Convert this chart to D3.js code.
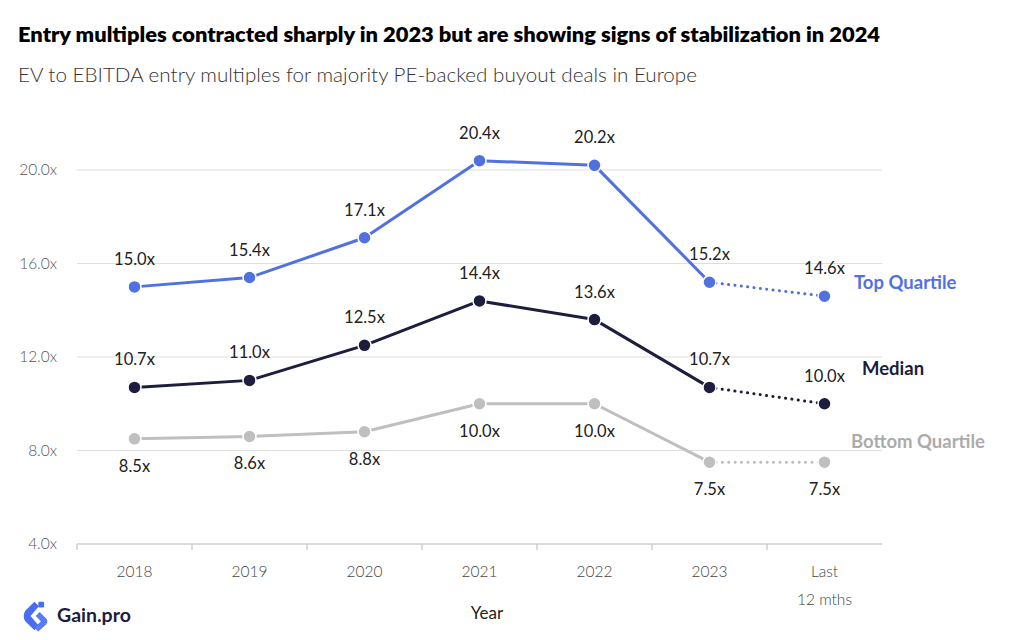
<!DOCTYPE html>
<html>
<head>
<meta charset="utf-8">
<script src="https://cdn.jsdelivr.net/npm/d3@7"></script>
<style>
body{margin:0;background:#fff;}
text{font-family:"Lato","Open Sans",sans-serif;}
</style>
</head>
<body>
<script>
// chart data
var years=["2018","2019","2020","2021","2022","2023","Last 12 mths"]
var topQuartile=[15.0,15.4,17.1,20.4,20.2,15.2,14.6]
var median=[10.7,11.0,12.5,14.4,13.6,10.7,10.0]
var bottomQuartile=[8.5,8.6,8.8,10.0,10.0,7.5,7.5]
var yTicks=[4,8,12,16,20]

var series=[
	{name:"Top Quartile",values:topQuartile,color:"#5271e0",labelPos:"above",lx:854,ly:283},
	{name:"Median",values:median,color:"#1d1d3d",labelPos:"above",lx:862,ly:369},
	{name:"Bottom Quartile",values:bottomQuartile,color:"#bfbfbf",labelPos:"below",lx:851,ly:442,labelColor:"#ababab"}
]

var width=1024,height=640
const svg=d3.select("body").append("svg").attr("width",width).attr("height",height)

var x=d3.scaleBand().domain(years).range([77,882])
var y=d3.scaleLinear().domain([4,20]).range([544,170])
var cx=(i)=>(x(years[i])+x.bandwidth()/2)

// titles
svg.append("text").attr("x",18).attr("y",42)
	.attr("font-size",20).attr("font-weight",800).attr("fill","#000")
	.attr("textLength",862).attr("lengthAdjust","spacingAndGlyphs")
	.text("Entry multiples contracted sharply in 2023 but are showing signs of stabilization in 2024")
svg.append("text").attr("x",18).attr("y",82)
	.attr("font-size",19).attr("font-weight",300).attr("fill","#333")
	.attr("textLength",679).attr("lengthAdjust","spacingAndGlyphs")
	.text("EV to EBITDA entry multiples for majority PE-backed buyout deals in Europe")

// grid + y labels
var grid=svg.append("g")
grid.selectAll("line").data(yTicks.filter((d)=>(d>4))).join("line")
	.attr("x1",77).attr("x2",882)
	.attr("y1",(d)=>(y(d))).attr("y2",(d)=>(y(d)))
	.attr("stroke","#dedede").attr("stroke-width",1.2)
grid.selectAll("text").data(yTicks).join("text")
	.attr("x",57).attr("y",(d)=>(y(d)+5))
	.attr("text-anchor","end").attr("font-size",15.5).attr("fill","#555").attr("font-weight",300)
	.text((d)=>(d.toFixed(1)+"x"))

// x axis
var xa=svg.append("g")
xa.append("line").attr("x1",77).attr("x2",882).attr("y1",544).attr("y2",544).attr("stroke","#cfcfcf").attr("stroke-width",1.5)
xa.selectAll("line.tk").data(years).join("line").attr("class","tk")
	.attr("x1",(d)=>(x(d))).attr("x2",(d)=>(x(d)))
	.attr("y1",544).attr("y2",550).attr("stroke","#cfcfcf").attr("stroke-width",1.5)
xa.selectAll("text.xl").data(years).join("text").attr("class","xl")
	.attr("x",(d)=>(x(d)+x.bandwidth()/2)).attr("y",577)
	.attr("text-anchor","middle").attr("font-size",15.5).attr("fill","#444").attr("font-weight",300)
	.each(function(d){
		var words=d=="Last 12 mths"?["Last","12 mths"]:[d]
		d3.select(this).selectAll("tspan").data(words).join("tspan")
			.attr("x",x(d)+x.bandwidth()/2).attr("dy",(w,i)=>(i==0?0:28)).text((w)=>(w))
	})
svg.append("text").attr("x",487).attr("y",619).attr("text-anchor","middle")
	.attr("font-size",17).attr("fill","#222").text("Year")

// lines
var solid=d3.line().x((d)=>(cx(d.i))).y((d)=>(y(d.v)))
for(const s of series){
	var pts=s.values.map((v,i)=>({v:v,i:i}))
	var g=svg.append("g")
	g.append("path").attr("d",solid(pts.slice(0,6))).attr("fill","none")
		.attr("stroke",s.color).attr("stroke-width",3).attr("stroke-linejoin","round")
	g.append("path").attr("d",solid(pts.slice(5))).attr("fill","none")
		.attr("stroke",s.color).attr("stroke-width",3).attr("stroke-linecap","round").attr("stroke-dasharray","0.1,6.3")
	g.selectAll("circle").data(pts).join("circle")
		.attr("cx",(d)=>(cx(d.i))).attr("cy",(d)=>(y(d.v))).attr("r",6.5)
		.attr("fill",s.color).attr("stroke","#fff").attr("stroke-width",1.5)
	g.selectAll("text").data(pts).join("text")
		.attr("x",(d)=>(cx(d.i))).attr("y",(d)=>(s.labelPos=="above"?y(d.v)-22:y(d.v)+33))
		.attr("text-anchor","middle").attr("font-size",16.5).attr("fill","#222")
		.text((d)=>(d.v.toFixed(1)+"x"))
	svg.append("text").attr("x",s.lx).attr("y",s.ly+6)
		.attr("font-size",18.5).attr("font-weight",700).attr("fill",s.labelColor||s.color)
		.text(s.name)
}

// logo
var logo=svg.append("g").attr("transform","translate(24,616) scale(1.3)")
logo.append("path").attr("d","M8,-11 L1,-4 Q-1.5,0 1,4 L8,11 L11.5,7.5 L5,0 L11.5,-7.5 Z").attr("fill","#4a6cf0")
logo.append("path").attr("d","M12,-3 L17,2 Q19,4 17,6.5 L11,12 L8,9 L13,4 L9,0 Z").attr("fill","#5a7bf5")
logo.append("rect").attr("x",11).attr("y",-11).attr("width",4.5).attr("height",4.5).attr("rx",1).attr("fill","#4a6cf0")
svg.append("text").attr("x",57).attr("y",622).attr("font-size",19.5).attr("font-weight",700)
	.attr("fill","#1d1d3d").text("Gain.pro")
</script>
</body>
</html>
